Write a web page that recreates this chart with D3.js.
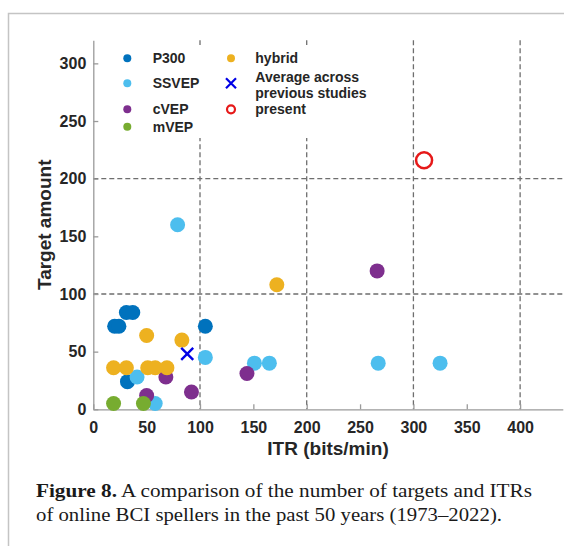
<!DOCTYPE html>
<html>
<head>
<meta charset="utf-8">
<script src="https://cdn.jsdelivr.net/npm/d3@7"></script>
<style>
  body { margin: 0; background: #fff; }
  svg { display: block; }
  .tick text { font-family: "Liberation Sans", Arial, sans-serif; font-weight: bold; font-size: 16px; fill: #262626; }
</style>
</head>
<body>
<div id="chart"></div>
<script>
// series, as [ITR (bits/min), target amount]
const categories = ["P300", "SSVEP", "cVEP", "mVEP", "hybrid"];
const p300 = [[20, 72], [24, 72], [31, 84], [37, 84], [32, 24], [105, 72]];
const ssvep = [[79, 160], [105, 45], [151, 40], [165, 40], [267, 40], [325, 40], [41, 28], [58, 5]];
const cvep = [[266, 120], [144, 31], [68, 28], [50, 12], [92, 15]];
const mvep = [[19, 5], [47, 5]];
const hybrid = [[172, 108], [50, 64], [83, 60], [19, 36], [31, 36], [51, 36], [58, 36], [69, 36]];
const average = [[88, 48]];
const present = [[310, 216]];

const xTicks = [0, 50, 100, 150, 200, 250, 300, 350, 400];
const yTicks = [0, 50, 100, 150, 200, 250, 300];
const xGrid = [100, 200, 300, 400];
const yGrid = [100, 200];

const captionLines = [
  ["Figure 8.", " A comparison of the number of targets and ITRs"],
  ["", "of online BCI spellers in the past 50 years (1973\u20132022)."]
];
const captionWidths = [496, 466];

const colors = ["#0072BD", "#4DBEEE", "#7E2F8E", "#77AC30", "#EDB120"];
const seriesData = [p300, ssvep, cvep, mvep, hybrid];

const width = 564, height = 546;
const sans = '"Liberation Sans", Arial, sans-serif';

const svg = d3.select('#chart').append('svg')
  .attr('width', width)
  .attr('height', height);

// figure frame (only top and left edges fall inside the window)
svg.append('path')
  .attr('d', 'M8.5,' + height + 'V13.5H' + width)
  .attr('fill', 'none')
  .attr('stroke', '#c4c4c4')
  .attr('stroke-width', 1.5);

const x = d3.scaleLinear().domain([0, 440]).range([93.3, 562.8]);
const y = d3.scaleLinear().domain([0, 320]).range([409.3, 40.3]);

// dashed grid
const grid = svg.append('g')
  .attr('stroke', '#6e6e6e')
  .attr('stroke-width', 1.3)
  .attr('stroke-dasharray', '5,3');
grid.selectAll('.vgrid').data(xGrid).join('line')
  .attr('x1', d => x(d)).attr('x2', d => x(d))
  .attr('y1', y(320)).attr('y2', y(0));
grid.selectAll('.hgrid').data(yGrid).join('line')
  .attr('x1', x(0)).attr('x2', x(440))
  .attr('y1', d => y(d)).attr('y2', d => y(d));

// axes
const xAxis = svg.append('g')
  .attr('transform', 'translate(0,' + y(0) + ')')
  .call(d3.axisBottom(x).tickValues(xTicks).tickSizeInner(-5).tickSizeOuter(0).tickPadding(12));
const yAxis = svg.append('g')
  .attr('transform', 'translate(' + x(0) + ',0)')
  .call(d3.axisLeft(y).tickValues(yTicks).tickSizeInner(-5).tickSizeOuter(0).tickPadding(7));
[xAxis, yAxis].forEach(ax => {
  ax.select('.domain').attr('stroke', '#9a9a9a').attr('stroke-width', 1.3);
  ax.selectAll('.tick line').attr('stroke', '#9a9a9a').attr('stroke-width', 1.3);
  ax.attr('font-family', null).attr('font-size', null);
});

// axis titles
svg.append('text')
  .attr('x', (x(0) + x(440)) / 2)
  .attr('y', 448)
  .attr('dy', '0.35em')
  .attr('text-anchor', 'middle')
  .style('font-family', sans).style('font-weight', 'bold').style('font-size', '19px')
  .style('fill', '#262626')
  .text('ITR (bits/min)');
svg.append('text')
  .attr('transform', 'translate(44,' + ((y(0) + y(320)) / 2) + ') rotate(-90)')
  .attr('dy', '0.35em')
  .attr('text-anchor', 'middle')
  .style('font-family', sans).style('font-weight', 'bold').style('font-size', '19px')
  .style('fill', '#262626')
  .text('Target amount');

// scatter points
const marks = svg.append('g');
seriesData.forEach((data, i) => {
  marks.append('g').selectAll('circle').data(data).join('circle')
    .attr('cx', d => x(d[0]))
    .attr('cy', d => y(d[1]))
    .attr('r', 7.5)
    .attr('fill', colors[i]);
});

// average marker
marks.append('g').selectAll('path').data(average).join('path')
  .attr('d', d => {
    const cx = x(d[0]), cy = y(d[1]), s = 6;
    return 'M' + (cx - s) + ',' + (cy - s) + 'L' + (cx + s) + ',' + (cy + s) +
      'M' + (cx - s) + ',' + (cy + s) + 'L' + (cx + s) + ',' + (cy - s);
  })
  .attr('stroke', '#0000E6')
  .attr('stroke-width', 2.4)
  .attr('fill', 'none');

// present study
marks.append('g').selectAll('circle').data(present).join('circle')
  .attr('cx', d => x(d[0]))
  .attr('cy', d => y(d[1]))
  .attr('r', 8)
  .attr('fill', 'none')
  .attr('stroke', '#E61919')
  .attr('stroke-width', 2.5);

// legend
const legend = svg.append('g');
legend.append('rect')
  .attr('x', 105).attr('y', 45)
  .attr('width', 275).attr('height', 93)
  .attr('fill', '#fff');

const legendRowsY = [58.3, 83.3, 109.3, 126.7];
categories.slice(0, 4).forEach((name, i) => {
  legend.append('circle')
    .attr('cx', 127.3).attr('cy', legendRowsY[i]).attr('r', 4)
    .attr('fill', colors[i]);
  legend.append('text')
    .attr('x', 152.7).attr('y', legendRowsY[i]).attr('dy', '0.35em')
    .style('font-family', sans).style('font-weight', 'bold').style('font-size', '14px')
    .style('fill', '#262626')
    .text(name);
});

legend.append('circle')
  .attr('cx', 231).attr('cy', 58.3).attr('r', 4)
  .attr('fill', colors[4]);
legend.append('path')
  .attr('d', 'M226,78.3L236,88.3M226,88.3L236,78.3')
  .attr('stroke', '#0000E6').attr('stroke-width', 2.2);
legend.append('circle')
  .attr('cx', 231).attr('cy', 109.3).attr('r', 4)
  .attr('fill', 'none').attr('stroke', '#E61919').attr('stroke-width', 2.2);

const legendRight = [
  [categories[4], 58.3],
  ['Average across', 76.7],
  ['previous studies', 92.7],
  ['present', 109.3]
];
legend.selectAll('.lr').data(legendRight).join('text')
  .attr('x', 255.3).attr('y', d => d[1]).attr('dy', '0.35em')
  .style('font-family', sans).style('font-weight', 'bold').style('font-size', '14px')
  .style('fill', '#262626')
  .text(d => d[0]);

// caption, one text per line, stretched to the printed width
captionLines.forEach((line, i) => {
  const t = svg.append('text')
    .attr('x', 36).attr('y', 496.7 + i * 24)
    .attr('textLength', captionWidths[i])
    .attr('lengthAdjust', 'spacingAndGlyphs')
    .style('font-family', '"Liberation Serif", "Times New Roman", serif')
    .style('font-size', '19.5px')
    .style('fill', '#1a1a1a');
  if (line[0]) t.append('tspan').style('font-weight', 'bold').text(line[0]);
  t.append('tspan').text(line[1]);
});
</script>
</body>
</html>
